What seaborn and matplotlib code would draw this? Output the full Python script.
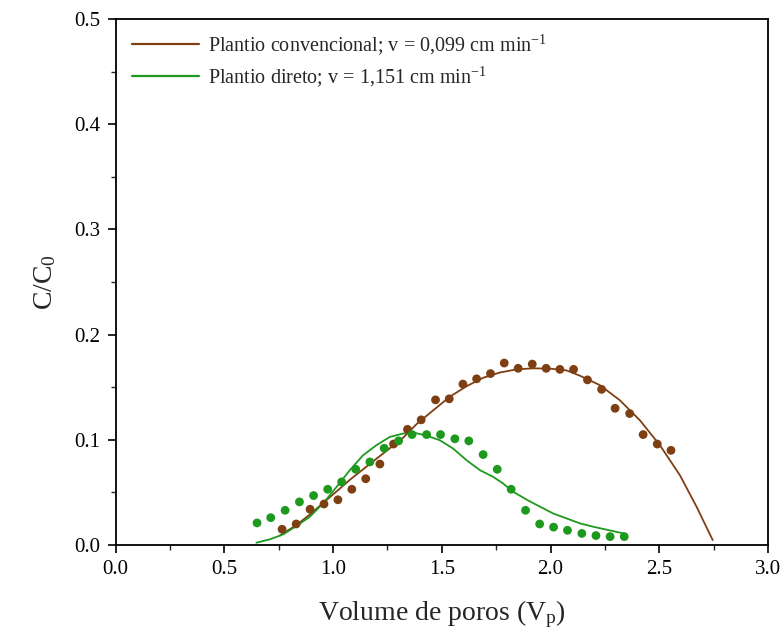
import matplotlib
matplotlib.use("Agg")
import matplotlib.pyplot as plt
from matplotlib.ticker import MultipleLocator, FormatStrFormatter
import seaborn as sns
import pandas as pd

# Observed breakthrough points, conventional tillage
pc_vp = [0.765, 0.830, 0.894, 0.958, 1.022, 1.086, 1.150, 1.215, 1.278, 1.342,
         1.405, 1.471, 1.534, 1.597, 1.660, 1.724, 1.787, 1.851, 1.916, 1.980,
         2.043, 2.106, 2.170, 2.235, 2.297, 2.364, 2.426, 2.491, 2.554]
pc_c = [0.015, 0.020, 0.034, 0.039, 0.043, 0.053, 0.063, 0.077, 0.096, 0.110,
        0.119, 0.138, 0.139, 0.153, 0.158, 0.163, 0.173, 0.168, 0.172, 0.168,
        0.167, 0.167, 0.157, 0.148, 0.130, 0.125, 0.105, 0.096, 0.090]

# Observed breakthrough points, no-tillage
pd_vp = [0.650, 0.713, 0.779, 0.845, 0.910, 0.975, 1.039, 1.104, 1.169, 1.235,
         1.301, 1.363, 1.430, 1.494, 1.560, 1.624, 1.690, 1.755, 1.819, 1.885,
         1.950, 2.014, 2.078, 2.144, 2.209, 2.274, 2.339]
pd_c = [0.021, 0.026, 0.033, 0.041, 0.047, 0.053, 0.060, 0.072, 0.079, 0.092,
        0.099, 0.105, 0.105, 0.105, 0.101, 0.099, 0.086, 0.072, 0.053, 0.033,
        0.020, 0.017, 0.014, 0.011, 0.009, 0.008, 0.008]

# Fitted curves
pc_fit_vp = [0.755, 0.770, 0.831, 0.893, 0.954, 1.016, 1.077, 1.138, 1.199,
             1.261, 1.322, 1.384, 1.460, 1.537, 1.614, 1.690, 1.767, 1.844,
             1.920, 1.997, 2.074, 2.135, 2.227, 2.319, 2.411, 2.503, 2.595,
             2.672, 2.746]
pc_fit_c = [0.009, 0.011, 0.019, 0.029, 0.040, 0.051, 0.062, 0.072, 0.082,
            0.092, 0.102, 0.115, 0.128, 0.141, 0.151, 0.159, 0.164, 0.167,
            0.168, 0.1677, 0.166, 0.161, 0.152, 0.1376, 0.1186, 0.0949,
            0.0664, 0.0363, 0.0047]

pd_fit_vp = [0.647, 0.709, 0.770, 0.831, 0.893, 0.954, 1.016, 1.077, 1.138,
             1.199, 1.261, 1.322, 1.368, 1.430, 1.491, 1.552, 1.614, 1.675,
             1.736, 1.782, 1.828, 1.900, 2.012, 2.135, 2.196, 2.334]
pd_fit_c = [0.0022, 0.0054, 0.0101, 0.018, 0.0269, 0.0396, 0.0553, 0.0712,
            0.0854, 0.0949, 0.1028, 0.106, 0.107, 0.104, 0.0996, 0.0917,
            0.0806, 0.0712, 0.0648, 0.0585, 0.0506, 0.042, 0.030, 0.0206,
            0.0174, 0.0111]

label_pc = r"Plantio convencional; v = 0,099 cm min$^{-1}$"
label_pd = r"Plantio direto; v = 1,151 cm min$^{-1}$"

brown = "#7e3f13"
green = "#1d9a1d"

sns.set_theme(style="ticks")
plt.rcParams["font.family"] = ["Liberation Serif", "DejaVu Serif"]
plt.rcParams["mathtext.fontset"] = "custom"
plt.rcParams["mathtext.rm"] = "Liberation Serif"
plt.rcParams["mathtext.it"] = "Liberation Serif"

fig = plt.figure(figsize=(7.82, 6.37), dpi=100)
ax = fig.add_axes([0.148, 0.1444, 0.834, 0.8256])

obs_pc = pd.DataFrame({"vp": pc_vp, "c": pc_c})
obs_pd = pd.DataFrame({"vp": pd_vp, "c": pd_c})
fit_pc = pd.DataFrame({"vp": pc_fit_vp, "c": pc_fit_c})
fit_pd = pd.DataFrame({"vp": pd_fit_vp, "c": pd_fit_c})

sns.lineplot(data=fit_pc, x="vp", y="c", ax=ax, color=brown, lw=1.3,
             estimator=None, sort=False, label=label_pc)
sns.lineplot(data=fit_pd, x="vp", y="c", ax=ax, color=green, lw=1.3,
             estimator=None, sort=False, label=label_pd)
sns.scatterplot(data=obs_pc, x="vp", y="c", ax=ax, color=brown, s=40,
                edgecolor="none", zorder=3)
sns.scatterplot(data=obs_pd, x="vp", y="c", ax=ax, color=green, s=40,
                edgecolor="none", zorder=3)

ax.set_xlim(0, 3.0)
ax.set_ylim(0, 0.5)
ax.xaxis.set_major_locator(MultipleLocator(0.5))
ax.xaxis.set_minor_locator(MultipleLocator(0.25))
ax.yaxis.set_major_locator(MultipleLocator(0.1))
ax.yaxis.set_minor_locator(MultipleLocator(0.05))
ax.xaxis.set_major_formatter(FormatStrFormatter("%.1f"))
ax.yaxis.set_major_formatter(FormatStrFormatter("%.1f"))
ax.tick_params(which="major", direction="out", length=6, width=1.2,
               labelsize=15, colors="black", pad=5)
ax.tick_params(which="minor", direction="out", length=3.5, width=1.0)

for side in ax.spines.values():
    side.set_linewidth(1.3)
    side.set_color("black")

ax.set_xlabel(r"Volume de poros (V$_{\mathrm{p}}$)", fontsize=20, labelpad=14)
ax.set_ylabel(r"C/C$_{0}$", fontsize=20, labelpad=12)

leg = ax.legend(loc="upper left", frameon=False, fontsize=14.5,
                handlelength=3.3, handletextpad=0.45, labelspacing=0.35,
                borderaxespad=0.25, bbox_to_anchor=(0.005, 1.0))
for h in leg.get_lines():
    h.set_linewidth(1.6)

fig.savefig("out.png", dpi=100)
